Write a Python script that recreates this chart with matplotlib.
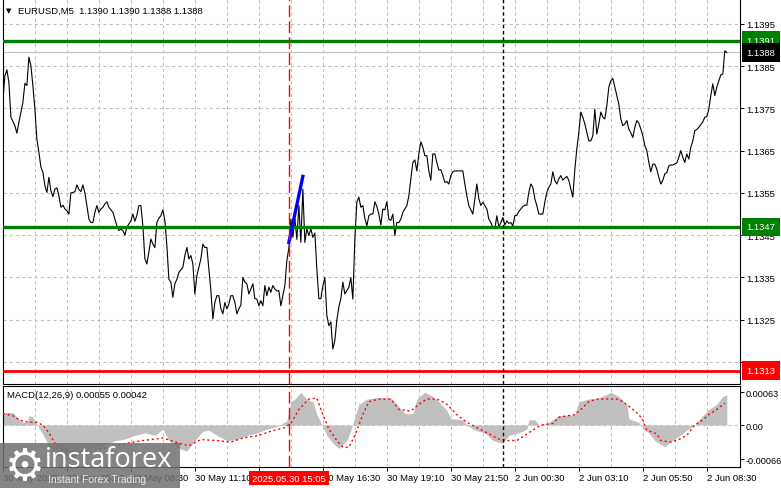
import matplotlib
matplotlib.use('Agg')
import matplotlib.pyplot as plt
from matplotlib.patches import Rectangle
from matplotlib.transforms import blended_transform_factory

plt.rcParams['font.family'] = ['Liberation Sans', 'DejaVu Sans']

# --- EURUSD M5 closes (bar index, price) ---
price_bar = [0, 1, 2, 3, 4, 6, 7, 8, 10, 11, 12, 13, 14, 15, 16, 17, 18, 19, 20, 21, 22, 23, 24, 25, 26, 27, 28,
             29, 30, 31, 32, 33, 34, 35, 36, 37, 38, 39, 40, 41, 42, 43, 44, 45, 46, 47, 48, 49, 50, 51, 52, 53,
             54, 55, 56, 57, 58, 59, 60, 61, 62, 64, 65, 66, 67, 68, 69, 70, 71, 72, 73, 74, 75, 76, 77, 78, 79,
             80, 81, 82, 83, 84, 85, 86, 87, 88, 90, 91, 92, 93, 94, 95, 96, 97, 98, 99, 100, 101, 102, 103, 104,
             105, 106, 107, 108, 109, 110, 111, 112, 113, 114, 115, 116, 117, 118, 119, 120, 121, 122, 123, 124,
             125, 126, 127, 128, 129, 130, 131, 132, 133, 134, 135, 136, 137, 138, 139, 140, 141, 142, 143, 144,
             145, 146, 147, 148, 149, 150, 151, 152, 153, 154, 155, 156, 157, 158, 159, 160, 161, 162, 163, 164,
             165, 166, 167, 168, 169, 170, 171, 172, 173, 174, 175, 176, 177, 178, 179, 180, 181, 182, 183, 184,
             185, 186, 187, 188, 189, 190, 191, 192, 193, 194, 195, 196, 197, 198, 199, 200, 202, 203, 204, 205,
             206, 207, 208, 209, 210, 211, 212, 213, 214, 215, 216, 217, 218, 219, 220, 221, 222, 223, 224, 225,
             226, 228, 230, 231, 232, 233, 234, 235, 236, 237, 238, 239, 240, 241, 242, 243, 244, 245, 246, 247,
             248, 249, 250, 251, 252, 253, 254, 255, 256, 257, 258, 259, 260, 261, 262, 263, 264, 265, 266, 267,
             268, 269, 270, 271, 272, 273, 274, 275, 276, 277, 278, 279, 280, 281, 282, 283, 284, 285, 286, 287,
             288, 289, 290, 291, 292, 293, 294, 295, 296, 297, 298, 299, 300, 301, 302, 303, 304, 305, 306, 307,
             308, 309, 310, 311, 312, 313, 314, 315, 316, 317, 318, 319, 320, 321, 322, 323, 324, 325, 326, 327,
             328, 329, 330, 331, 332, 333, 334, 335, 337, 338, 339, 340, 341, 342, 343, 344, 345, 346, 347, 348,
             350, 351, 352, 353, 354, 355, 356, 357, 358, 359, 360, 361, 362]
price_close = [1.13768, 1.13827, 1.13841, 1.13811, 1.13729, 1.13709, 1.13691, 1.13717, 1.13764, 1.13809, 1.13804,
               1.13871, 1.13851, 1.13803, 1.13748, 1.13677, 1.13646, 1.13611, 1.13599, 1.13567, 1.13551, 1.13587,
               1.13555, 1.13541, 1.13559, 1.13562, 1.13543, 1.13516, 1.13521, 1.13512, 1.13508, 1.13500, 1.13550,
               1.13551, 1.13553, 1.13569, 1.13558, 1.13553, 1.13569, 1.13550, 1.13520, 1.13488, 1.13480, 1.13480,
               1.13504, 1.13520, 1.13504, 1.13512, 1.13516, 1.13524, 1.13529, 1.13516, 1.13510, 1.13504, 1.13488,
               1.13472, 1.13461, 1.13464, 1.13461, 1.13450, 1.13469, 1.13484, 1.13500, 1.13483, 1.13497, 1.13520,
               1.13520, 1.13472, 1.13394, 1.13382, 1.13410, 1.13441, 1.13429, 1.13421, 1.13480, 1.13490, 1.13496,
               1.13510, 1.13484, 1.13425, 1.13346, 1.13339, 1.13303, 1.13335, 1.13346, 1.13362, 1.13374, 1.13402,
               1.13421, 1.13394, 1.13402, 1.13382, 1.13311, 1.13354, 1.13374, 1.13394, 1.13429, 1.13421, 1.13421,
               1.13370, 1.13319, 1.13252, 1.13291, 1.13307, 1.13307, 1.13276, 1.13264, 1.13291, 1.13276, 1.13287,
               1.13307, 1.13307, 1.13291, 1.13264, 1.13276, 1.13285, 1.13350, 1.13339, 1.13335, 1.13311, 1.13323,
               1.13335, 1.13300, 1.13299, 1.13283, 1.13295, 1.13283, 1.13331, 1.13307, 1.13327, 1.13315, 1.13331,
               1.13323, 1.13318, 1.13319, 1.13283, 1.13307, 1.13331, 1.13390, 1.13420, 1.13488, 1.13445, 1.13490,
               1.13440, 1.13520, 1.13433, 1.13559, 1.13433, 1.13465, 1.13449, 1.13465, 1.13445, 1.13455, 1.13370,
               1.13300, 1.13300, 1.13330, 1.13350, 1.13260, 1.13236, 1.13245, 1.13181, 1.13201, 1.13250, 1.13280,
               1.13300, 1.13339, 1.13311, 1.13319, 1.13327, 1.13350, 1.13299, 1.13441, 1.13528, 1.13540, 1.13516,
               1.13520, 1.13490, 1.13472, 1.13496, 1.13500, 1.13500, 1.13529, 1.13518, 1.13500, 1.13474, 1.13512,
               1.13510, 1.13529, 1.13488, 1.13485, 1.13500, 1.13449, 1.13480, 1.13480, 1.13488, 1.13504, 1.13520,
               1.13543, 1.13583, 1.13622, 1.13628, 1.13602, 1.13642, 1.13671, 1.13658, 1.13638, 1.13638, 1.13602,
               1.13580, 1.13642, 1.13642, 1.13622, 1.13604, 1.13605, 1.13591, 1.13575, 1.13577, 1.13571, 1.13591,
               1.13600, 1.13602, 1.13602, 1.13602, 1.13571, 1.13543, 1.13520, 1.13510, 1.13500, 1.13536, 1.13571,
               1.13536, 1.13520, 1.13528, 1.13520, 1.13512, 1.13488, 1.13480, 1.13469, 1.13465, 1.13496, 1.13469,
               1.13480, 1.13492, 1.13474, 1.13484, 1.13478, 1.13480, 1.13472, 1.13496, 1.13497, 1.13506, 1.13512,
               1.13518, 1.13521, 1.13521, 1.13551, 1.13571, 1.13563, 1.13536, 1.13520, 1.13500, 1.13500, 1.13500,
               1.13528, 1.13551, 1.13563, 1.13571, 1.13600, 1.13579, 1.13571, 1.13583, 1.13591, 1.13580, 1.13585,
               1.13589, 1.13580, 1.13559, 1.13540, 1.13605, 1.13654, 1.13693, 1.13741, 1.13729, 1.13713, 1.13693,
               1.13673, 1.13673, 1.13685, 1.13748, 1.13689, 1.13713, 1.13741, 1.13729, 1.13725, 1.13756, 1.13800,
               1.13815, 1.13821, 1.13800, 1.13780, 1.13760, 1.13725, 1.13709, 1.13713, 1.13721, 1.13701, 1.13692,
               1.13681, 1.13705, 1.13721, 1.13715, 1.13701, 1.13685, 1.13662, 1.13650, 1.13622, 1.13600, 1.13618,
               1.13618, 1.13606, 1.13587, 1.13571, 1.13580, 1.13595, 1.13598, 1.13614, 1.13616, 1.13616, 1.13621,
               1.13634, 1.13650, 1.13634, 1.13622, 1.13642, 1.13630, 1.13658, 1.13673, 1.13697, 1.13700, 1.13705,
               1.13718, 1.13729, 1.13730, 1.13748, 1.13780, 1.13808, 1.13780, 1.13800, 1.13815, 1.13829, 1.13831,
               1.13886, 1.13882]

# MACD main (histogram) and signal
macd_bar = [0, 5, 7, 10, 12, 13, 15, 17, 19, 21, 23, 26, 31, 36, 41, 46, 51, 56, 61, 66, 71, 76, 80, 83, 88, 92,
            96, 100, 103, 107, 112, 117, 122, 127, 132, 137, 142, 144, 146, 149, 152, 155, 157, 159, 162, 165, 168,
            172, 174, 176, 178, 182, 188, 194, 197, 201, 205, 207, 211, 215, 218, 222, 224, 230, 232, 236, 241, 245,
            250, 253, 258, 262, 263, 266, 268, 272, 275, 278, 286, 288, 293, 298, 304, 308, 312, 313, 318, 321, 323,
            326, 331, 334, 338, 342, 346, 348, 353, 357, 360, 362]
macd_val = [0.00024, 0.00024, 0.00015, 0.00005, 0.00005, 0.00018, 0.00015, 0.00002, -0.00012, -0.00025, -0.0004,
            -0.00055, -0.00066, -0.00062, -0.0005, -0.00045, -0.0004, -0.0003, -0.00027, -0.0002, -0.00015, -0.0002,
            -0.00008, -0.0003, -0.00045, -0.0005, -0.0003, -0.00012, -0.0001, -0.0002, -0.0003, -0.00028, -0.0002,
            -0.00015, -0.00008, -0.00003, 0.00008, 0.00045, 0.0005, 0.00063, 0.0005, 0.00045, 0.0002, 0.00005,
            -0.0002, -0.00035, -0.00045, -0.0003, -0.0001, 0.00015, 0.0004, 0.0005, 0.00053, 0.00052, 0.0004,
            0.00022, 0.00022, 0.0005, 0.00063, 0.00055, 0.00045, 0.00028, 0.00012, 0.0001, 0.0, -0.0001, -0.00015,
            -0.0003, -0.00035, -0.0002, -0.00015, -0.00008, 0.0001, 0.0001, 0.0, 0.00003, 0.0001, 0.00018, 0.0002,
            0.00045, 0.0005, 0.00052, 0.00063, 0.00055, 0.0004, 0.00012, 0.00005, -0.0001, -0.00015, -0.0003,
            -0.00042, -0.00032, -0.00022, -0.0001, 0.0, 0.0001, 0.0003, 0.0004, 0.00055, 0.00058]
signal_bar = [0, 5, 8, 12, 17, 20, 23, 26, 30, 38, 45, 53, 62, 70, 80, 88, 93, 99, 107, 114, 120, 128, 134, 141,
              144, 148, 153, 157, 160, 163, 167, 170, 173, 176, 180, 183, 188, 194, 198, 204, 208, 212, 217, 222,
              227, 232, 237, 242, 248, 252, 257, 261, 265, 269, 275, 278, 286, 289, 293, 297, 307, 310, 315, 318,
              320, 322, 327, 329, 334, 338, 342, 346, 350, 353, 357, 361]
signal_val = [0.00022, 0.00018, 0.0001, 0.00006, 0.00005, 0.0, -0.00015, -0.00035, -0.00048, -0.00055, -0.0005,
              -0.00042, -0.00035, -0.0003, -0.00025, -0.00035, -0.0004, -0.00028, -0.0003, -0.00033, -0.00025,
              -0.0002, -0.00012, -0.00005, 0.00003, 0.0003, 0.0005, 0.00052, 0.0002, -0.00008, -0.0003, -0.00043,
              -0.00043, -0.0002, 0.0002, 0.00045, 0.0005, 0.0005, 0.0003, 0.00027, 0.0004, 0.0005, 0.0005, 0.0004,
              0.0002, 0.00005, -0.00005, -0.00015, -0.00027, -0.0003, -0.0003, -0.0002, -0.0001, 0.0, 0.00003,
              0.00015, 0.0002, 0.0003, 0.00045, 0.0005, 0.0005, 0.00045, 0.0003, 0.0002, 0.0001, -0.0001, -0.00017,
              -0.0003, -0.00033, -0.00028, -0.0002, 0.0, 0.0001, 0.0002, 0.0003, 0.00042]

blue_bar = [143, 150]
blue_price = [1.13433, 1.13589]

green_levels = [1.1391, 1.1347]
red_level = 1.1313
bid_price = 1.13882
price_ticks = [1.1315, 1.1325, 1.1335, 1.1345, 1.1355, 1.1365, 1.1375, 1.1385, 1.1395]
macd_ticks = [0.00063, 0.0, -0.00066]
macd_tick_labels = ['0.00063', '0.00', '-0.00066']
time_ticks = [0, 32, 64, 96, 128, 160, 192, 224, 256, 288, 320, 352]
time_labels = ['30 May 2025', '30 May 05:50', '30 May 08:30', '30 May 11:10', '30 May 13:50', '30 May 16:30',
               '30 May 19:10', '30 May 21:50', '2 Jun 00:30', '2 Jun 03:10', '2 Jun 05:50', '2 Jun 08:30']
marked_bar = 143
marked_label = '2025.05.30 15:05'
separator_bar = 250

W, H = 781, 489
fig = plt.figure(figsize=(W / 100, H / 100), dpi=100)
fig.patch.set_facecolor('white')


def rect(x0, y0, x1, y1):
    return [x0 / W, 1 - y1 / H, (x1 - x0) / W, (y1 - y0) / H]


ax = fig.add_axes(rect(2.5, 0, 740, 384.5))
ax2 = fig.add_axes(rect(2.5, 386.5, 740, 468))

grid_kw = dict(color='#c0c0c0', lw=0.75, ls=(0, (3, 3)), zorder=0)
for a in (ax, ax2):
    a.set_xlim(-0.2, 368.6)
    for b in range(16, 368, 16):
        a.axvline(b, **grid_kw)
    for s in a.spines.values():
        s.set_linewidth(0.8)
ax.spines['top'].set_visible(False)

# main price panel
ax.set_ylim(1.130994, 1.140084)
for p in price_ticks:
    ax.axhline(p, **grid_kw)
ax.axhline(bid_price, color='#c0c0c0', lw=0.8, zorder=1)
ax.plot(price_bar, price_close, color='black', lw=0.8, zorder=3)
for lv in green_levels:
    ax.axhline(lv, color='#008000', lw=2.4, zorder=4)
ax.axhline(red_level, color='#ff0000', lw=2.0, zorder=4)
ax.plot(blue_bar, blue_price, color='#0000ff', lw=2.4, zorder=5)

ax.yaxis.tick_right()
ax.set_yticks(price_ticks)
ax.set_yticklabels([f'{p:.4f}' for p in price_ticks])
ax.tick_params(axis='y', length=3, width=0.7, pad=1.2, labelsize=6.8)
ax.tick_params(axis='x', bottom=False, labelbottom=False)

# MACD panel
ax2.set_ylim(-0.000809, 0.000761)
ax2.axhline(0, **grid_kw)
ax2.fill_between(macd_bar, 0, macd_val, color='#c0c0c0', lw=0, zorder=1)
ax2.plot(signal_bar, signal_val, color='red', lw=1.0, ls=(0, (1.5, 2)), zorder=3)
ax2.yaxis.tick_right()
ax2.set_yticks(macd_ticks)
ax2.set_yticklabels(macd_tick_labels)
ax2.tick_params(axis='y', length=3, width=0.7, pad=1.0, labelsize=6.6)
ax2.set_xticks(time_ticks)
ax2.set_xticklabels(time_labels)
ax2.tick_params(axis='x', length=3, width=0.7, pad=1.5, labelsize=6.8)
plt.setp(ax2.get_xticklabels(), ha='left')

for a in (ax, ax2):
    a.axvline(marked_bar, color='red', lw=1.0, ls=(0, (8.5, 3)), zorder=6)
    a.axvline(separator_bar, color='black', lw=1.0, ls=(0, (2.5, 2)), zorder=6)

# price tags on the right scale
tr = blended_transform_factory(ax.transAxes, ax.transData)
tag_x = (746.5 - 2.5) / (740 - 2.5)
tag_kw = dict(transform=tr, ha='left', va='center', color='white', fontsize=6.8, clip_on=False, zorder=10)
for lv in green_levels:
    ax.text(tag_x, lv, f'{lv:.4f}', bbox=dict(boxstyle='square,pad=0.5', fc='#008000', ec='none'), **tag_kw)
ax.text(tag_x, red_level, f'{red_level:.4f}', bbox=dict(boxstyle='square,pad=0.5', fc='#ff0000', ec='none'),
        **tag_kw)
ax.text(tag_x, bid_price, f'{bid_price:.4f}', bbox=dict(boxstyle='square,pad=0.5', fc='black', ec='none'),
        **tag_kw)

# highlighted time on x scale
tr2 = blended_transform_factory(ax2.transData, ax2.transAxes)
ax2.text(marked_bar, -0.135, marked_label, transform=tr2, ha='center', va='center', color='white', fontsize=6.8,
         clip_on=False, zorder=10, bbox=dict(boxstyle='square,pad=0.3', fc='#ff0000', ec='none'))

# captions
fig.text(6 / W, 1 - 11 / H, '\u25bc', fontsize=5, va='center', ha='left', family=['DejaVu Sans'])
fig.text(18 / W, 1 - 11 / H, 'EURUSD,M5  1.1390 1.1390 1.1388 1.1388', fontsize=6.8, va='center', ha='left')
fig.text(7 / W, 1 - 395 / H, 'MACD(12,26,9) 0.00055 0.00042', fontsize=6.8, va='center', ha='left')

# watermark logo
fig.patches.append(Rectangle((0, 0), 180 / W, 45 / H, transform=fig.transFigure, fc='#707070', alpha=0.85,
                             ec='none', zorder=20))
fig.text(25 / W, 1 - 467 / H, '\u2699', fontsize=32, color='white', ha='center', va='center',
         family=['DejaVu Sans'], zorder=21)
fig.text(45 / W, 1 - 460 / H, 'instaforex', fontsize=19.5, color='white', ha='left', va='center',
         family=['Open Sans', 'DejaVu Sans'], zorder=21)
fig.text(48 / W, 1 - 480 / H, 'Instant Forex Trading', fontsize=7.5, color='#e8e8e8', ha='left', va='center',
         zorder=21)

fig.savefig('out.png', dpi=100, facecolor='white')
